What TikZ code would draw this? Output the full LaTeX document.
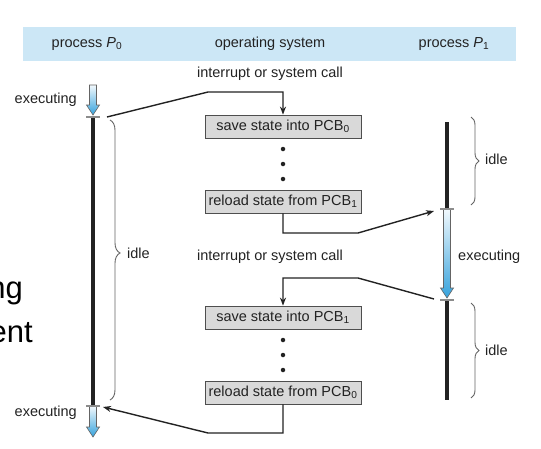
\documentclass[tikz,border=0pt]{standalone}
\usepackage{fontspec}
\setmainfont{Liberation Sans}
\usetikzlibrary{decorations.pathreplacing,arrows.meta,calc}
\definecolor{band}{HTML}{CCE7F6}
\definecolor{boxfill}{HTML}{D9D9D9}
\definecolor{ink}{HTML}{222222}
\definecolor{tickc}{HTML}{8C8C8C}
\definecolor{arrowtop}{HTML}{F2F9FD}
\definecolor{arrowbot}{HTML}{35A2DC}
\newcommand\execArrow[3]{%
  \shade[top color=arrowtop, bottom color=arrowbot, draw=ink!70, line width=0.6pt]
  (#1-3.5,#2) -- (#1+3.5,#2) -- (#1+3.5,#3+10) -- (#1+6.5,#3+10) -- (#1,#3)
  -- (#1-6.5,#3+10) -- (#1-3.5,#3+10) -- cycle;}
\tikzset{
  lbl/.style={font=\fontsize{14.5}{17}\selectfont, text=ink, inner sep=0pt},
  statebox/.style={lbl, draw=ink!80, fill=boxfill, line width=0.8pt,
    minimum width=156pt, minimum height=23pt},
  timeline/.style={line width=4pt, ink},
  tickmark/.style={line width=2pt, tickc},
  conn/.style={line width=1.4pt, ink},
  connarrow/.style={conn, -{Stealth[length=8pt,width=6pt]}},
  idlebrace/.style={decorate, decoration={brace, amplitude=#1}, line width=0.9pt, ink!70},
  bracezero/.style={decorate, decoration={brace, amplitude=10pt, aspect=0.475}, line width=0.9pt, ink!70},
  dot/.style={circle, fill=ink, inner sep=0pt, minimum size=4.5pt},
  big/.style={font=\fontsize{31}{36}\selectfont, text=black, inner sep=0pt},
}
\begin{document}
\begin{tikzpicture}[x=1pt,y=1pt]
\useasboundingbox (0,0) rectangle (541,-448);
% header band
\node[fill=band, minimum width=493pt, minimum height=34pt, inner sep=0pt, anchor=north west] (band) at (23,-27) {};
\node[lbl] (hp0) at (87,-44) {process \textit{P}\textsubscript{0}};
\node[lbl] (hos) at (270,-44) {operating system};
\node[lbl] (hp1) at (454,-44) {process \textit{P}\textsubscript{1}};
% leftover slide text
\node[big, anchor=base east] (bigng) at (23,-298) {ng};
\node[big, anchor=base east] (bigent) at (33,-342) {ent};
% labels
\node[lbl] (int1) at (270,-74) {interrupt or system call};
\node[lbl] (int2) at (270,-257) {interrupt or system call};
\node[lbl, anchor=east] (ex0a) at (77,-100) {executing};
\node[lbl, anchor=east] (ex0b) at (77,-413) {executing};
\node[lbl, anchor=west] (ex1) at (458,-257) {executing};
\node[lbl, anchor=west] (idle0) at (127,-253) {idle};
\node[lbl, anchor=west] (idle1a) at (485,-159) {idle};
\node[lbl, anchor=west] (idle1b) at (485,-350) {idle};
% OS boxes
\node[statebox] (s0) at (283,-126.5) {save state into PCB\textsubscript{0}};
\node[statebox] (r1) at (283,-201.5) {reload state from PCB\textsubscript{1}};
\node[statebox] (s1) at (283,-317.5) {save state into PCB\textsubscript{1}};
\node[statebox] (r0) at (283,-392.5) {reload state from PCB\textsubscript{0}};
\node[dot] (d1) at (283,-149) {};
\node[dot] (d2) at (283,-164) {};
\node[dot] (d3) at (283,-179) {};
\node[dot] (d4) at (283,-340) {};
\node[dot] (d5) at (283,-355) {};
\node[dot] (d6) at (283,-370) {};
% timelines
\draw[timeline] (93,-117) -- (93,-406);
\draw[timeline] (447,-122) -- (447,-209);
\draw[timeline] (447,-300) -- (447,-400);
\execArrow{93}{-85}{-115}
\execArrow{93}{-406}{-437}
\execArrow{447}{-209}{-298}
\coordinate (t0a) at (93,-117);
\coordinate (t1a) at (447,-209);
\coordinate (t1b) at (447,-300);
\coordinate (t0b) at (93,-406);
\draw[tickmark] ($(t0a)+(-7,0)$) -- ($(t0a)+(7,0)$);
\draw[tickmark] ($(t0b)+(-7,0)$) -- ($(t0b)+(7,0)$);
\draw[tickmark] ($(t1a)+(-7,0)$) -- ($(t1a)+(7,0)$);
\draw[tickmark] ($(t1b)+(-7,0)$) -- ($(t1b)+(7,0)$);
% braces
\draw[bracezero] (110,-120) -- (110,-400);
\draw[idlebrace=8pt] (471,-117) -- (471,-205);
\draw[idlebrace=8pt] (471,-303) -- (471,-398);
% connectors
\coordinate (p0out) at (107,-117);
\coordinate (c1) at (208,-92);
\draw[connarrow] (p0out) -- (c1) -- (c1 -| s0.north) -- (s0.north);
\coordinate (c3) at (358,-233);
\coordinate (p1in) at (434,-211);
\draw[connarrow] (r1.south) -- (r1.south |- c3) -- (c3) -- (p1in);
\coordinate (p1out) at (434,-299);
\coordinate (c2) at (358,-278);
\draw[connarrow] (p1out) -- (c2) -- (c2 -| s1.north) -- (s1.north);
\coordinate (c4) at (208,-433);
\coordinate (p0in) at (103,-407);
\draw[connarrow] (r0.south) -- (r0.south |- c4) -- (c4) -- (p0in);
\end{tikzpicture}
\end{document}
